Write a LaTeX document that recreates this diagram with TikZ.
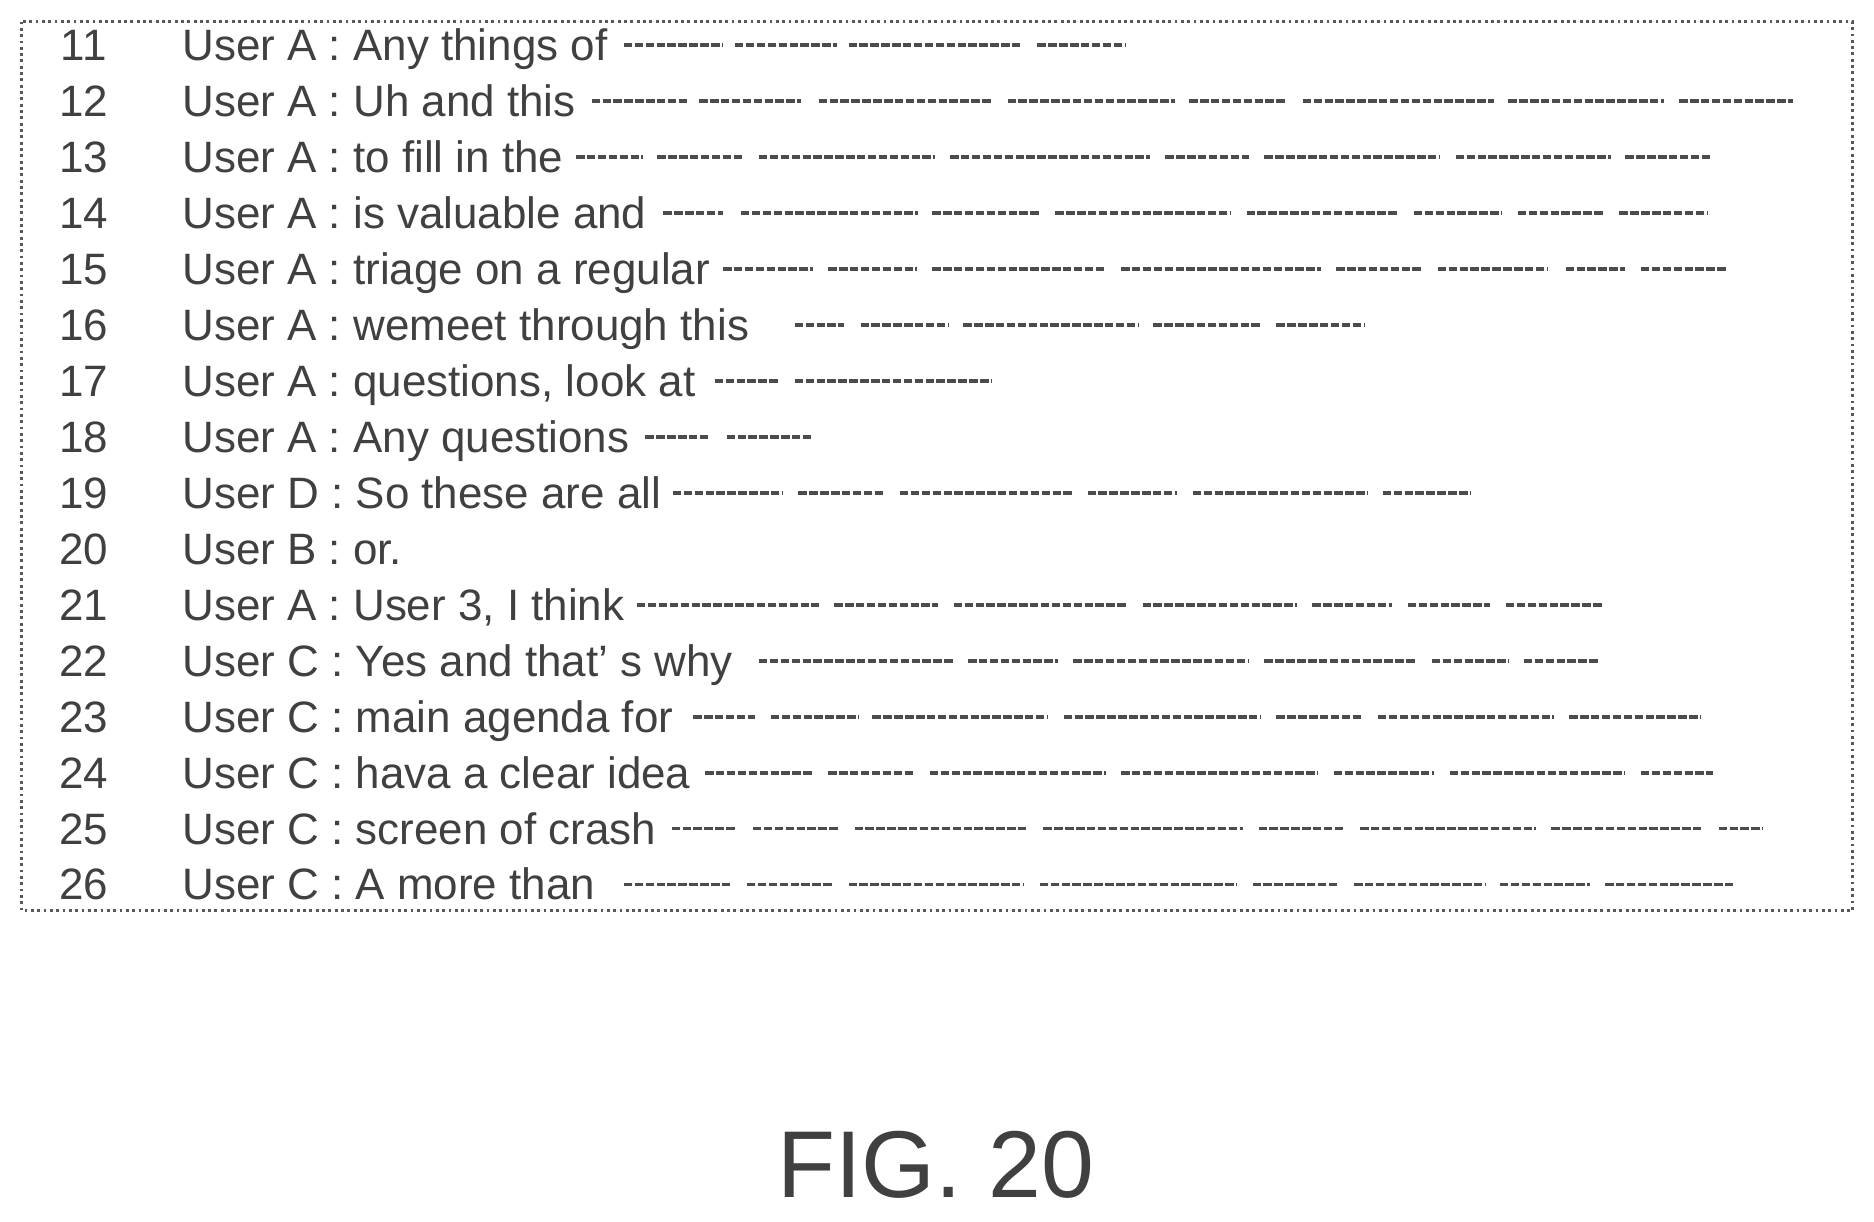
\documentclass[tikz,border=0pt]{standalone}
\usepackage{fontspec}
\setmainfont{Liberation Sans}
\tikzset{
  rownum/.style={anchor=base,font=\fontsize{12.5}{14}\selectfont,text=black!75,inner sep=0pt},
  rowtext/.style={anchor=base west,font=\fontsize{12.5}{14}\selectfont,text=black!75,inner sep=0pt},
  blank/.style={draw=black!70,line width=1.1pt,dash pattern=on 2.4pt off 0.7pt}
}
\begin{document}
\begin{tikzpicture}[x=0.01195cm,y=-0.01195cm]
  \useasboundingbox (0,0) rectangle (1568,1022);
  % frame
  \draw[black!65,line width=0.8pt,densely dotted] (18,18) rectangle (1550,762);
  % transcript rows
  \foreach \n/\who/\txt [count=\i] in {
      11/A/Any things of,
      12/A/Uh and this,
      13/A/to fill in the,
      14/A/is valuable and,
      15/A/triage on a regular,
      16/A/wemeet through this,
      17/A/{questions, look at},
      18/A/Any questions,
      19/D/So these are all,
      20/B/or.,
      21/A/{User 3, I think},
      22/C/Yes and that’ s why,
      23/C/main agenda for,
      24/C/hava a clear idea,
      25/C/screen of crash,
      26/C/A more than}
  {
    \node[rownum]  (num\i) at (70,{51+46.8*(\i-1)}) {\n};
    \node[rowtext] (line\i) at (152,{51+46.8*(\i-1)}) {User \who\ : \txt};
  }
  % blanked-out words
  \foreach \i/\segs in {
      1/{522/605,615/700,710/855,868/942},
      2/{495/575,585/670,685/830,843/983,995/1077,1090/1250,1262/1392,1405/1500},
      3/{482/538,550/622,635/782,795/962,975/1045,1058/1205,1218/1348,1360/1432},
      4/{555/605,620/768,780/870,883/1030,1043/1170,1183/1257,1270/1342,1355/1428},
      5/{605/680,693/767,780/925,938/1105,1118/1190,1203/1295,1310/1360,1373/1445},
      6/{665/706,720/793,806/953,965/1055,1068/1142},
      7/{598/652,665/830},
      8/{540/593,608/680},
      9/{563/655,668/740,753/898,910/985,998/1145,1157/1230},
      11/{533/685,698/785,798/943,956/1085,1098/1165,1178/1247,1260/1340},
      12/{635/797,810/885,898/1045,1058/1185,1198/1262,1275/1338},
      13/{580/632,645/718,730/877,890/1055,1068/1140,1153/1300,1313/1423},
      14/{590/680,693/765,778/925,938/1103,1116/1200,1213/1360,1373/1433},
      15/{562/615,630/702,715/860,873/1040,1053/1125,1138/1285,1298/1425,1438/1475},
      16/{522/612,625/697,710/857,870/1035,1048/1120,1133/1243,1255/1330,1343/1450}}
  {
    \foreach \a/\b in \segs
      \draw[blank] (\a,{38+46.8*(\i-1)}) -- (\b,{38+46.8*(\i-1)});
  }
  \node[font=\fontsize{27}{30}\selectfont,text=black!75] (fig) at (783,975) {FIG. 20};
\end{tikzpicture}
\end{document}
